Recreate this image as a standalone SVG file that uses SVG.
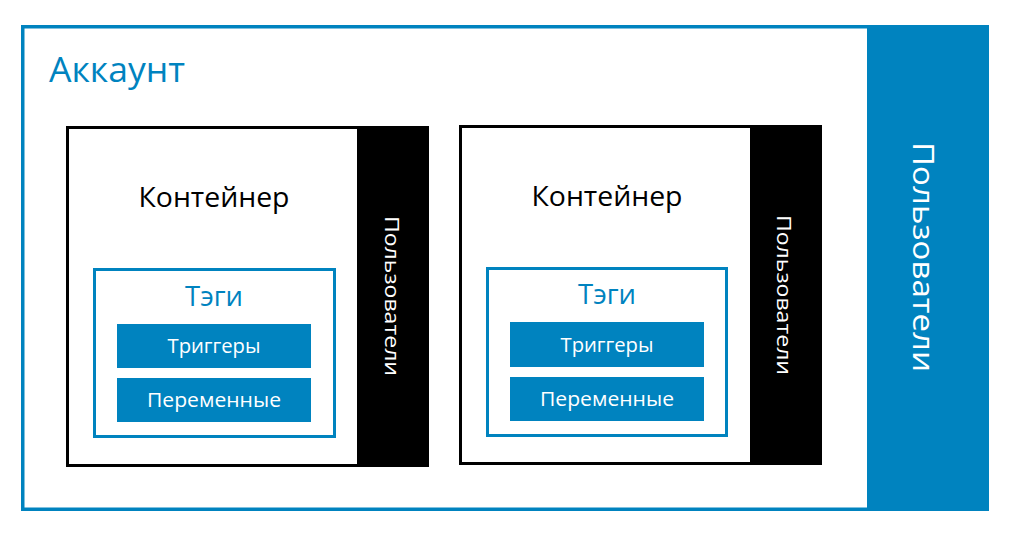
<svg xmlns="http://www.w3.org/2000/svg" width="1010" height="534" viewBox="0 0 1010 534">
<style>
text{font-family:"Open Sans","Noto Sans","DejaVu Sans",sans-serif}
.frame{fill:#fff;stroke:#0083BF;stroke-width:3.5}
.cont{fill:#fff;stroke:#000;stroke-width:3}
.side{fill:#000}
.tags{fill:#fff;stroke:#0083BF;stroke-width:3}
.bar{fill:#0083BF}
.bt{fill:#fff;font-size:20px;text-anchor:middle}
.ct{fill:#000;font-size:27px;text-anchor:middle}
.tt{fill:#0083BF;font-size:27px;text-anchor:middle}
.vs{fill:#fff;font-size:20px;text-anchor:middle}
.vl{fill:#fff;font-size:30px;text-anchor:middle}
</style>
<rect width="1010" height="534" fill="#fff"/>
<g id="account">
<rect class="frame" x="22.75" y="26.75" width="964.5" height="482.5"/>
<text x="49" y="82" fill="#0083BF" font-size="34" textLength="136" lengthAdjust="spacingAndGlyphs">Аккаунт</text>
</g>
<g id="users-account">
<rect x="867" y="25" width="122" height="486" fill="#0083BF"/>
<text class="vl" transform="translate(913,257) rotate(90)" textLength="230" lengthAdjust="spacingAndGlyphs">Пользователи</text>
</g>
<g id="container1">
<rect class="cont" x="67.5" y="127.5" width="360" height="338"/>
<rect class="side" x="357" y="126" width="72" height="341"/>
<text class="ct" x="214" y="207" textLength="151" lengthAdjust="spacingAndGlyphs">Контейнер</text>
<text class="vs" transform="translate(385,296) rotate(90)" textLength="160" lengthAdjust="spacingAndGlyphs">Пользователи</text>
</g>
<g id="tags1">
<rect class="tags" x="94.5" y="269.5" width="240" height="167"/>
<text class="tt" x="214" y="306" textLength="58" lengthAdjust="spacingAndGlyphs">Тэги</text>
</g>
<g id="triggers1">
<rect class="bar" x="117" y="324" width="194" height="44"/>
<text class="bt" x="214" y="353" textLength="93" lengthAdjust="spacingAndGlyphs">Триггеры</text>
</g>
<g id="variables1">
<rect class="bar" x="117" y="378" width="194" height="44"/>
<text class="bt" x="214" y="407" textLength="134" lengthAdjust="spacingAndGlyphs">Переменные</text>
</g>
<g id="container2">
<rect class="cont" x="460.5" y="126.5" width="360" height="337"/>
<rect class="side" x="750" y="125" width="72" height="340"/>
<text class="ct" x="607" y="206" textLength="151" lengthAdjust="spacingAndGlyphs">Контейнер</text>
<text class="vs" transform="translate(777,295) rotate(90)" textLength="160" lengthAdjust="spacingAndGlyphs">Пользователи</text>
</g>
<g id="tags2">
<rect class="tags" x="487.5" y="268.5" width="239" height="167"/>
<text class="tt" x="607" y="304" textLength="58" lengthAdjust="spacingAndGlyphs">Тэги</text>
</g>
<g id="triggers2">
<rect class="bar" x="510" y="322" width="194" height="45"/>
<text class="bt" x="607" y="352" textLength="93" lengthAdjust="spacingAndGlyphs">Триггеры</text>
</g>
<g id="variables2">
<rect class="bar" x="510" y="377" width="194" height="44"/>
<text class="bt" x="607" y="406" textLength="134" lengthAdjust="spacingAndGlyphs">Переменные</text>
</g>
<g id="connectors"></g>
</svg>
